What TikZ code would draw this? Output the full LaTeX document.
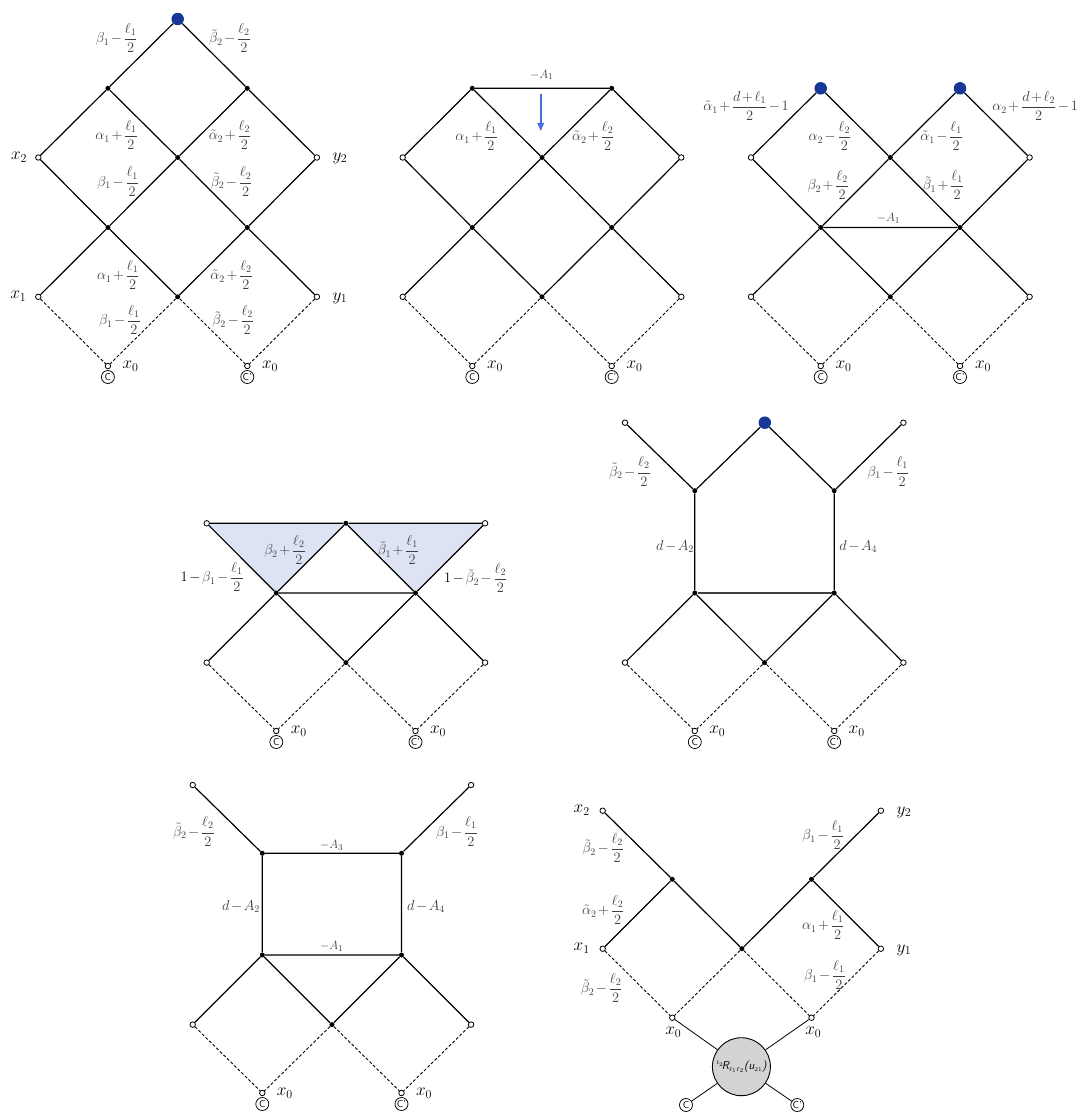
\documentclass[tikz,border=0pt]{standalone}
\usepackage{amsmath}
\usetikzlibrary{arrows.meta,backgrounds}
\definecolor{dblue}{RGB}{22,55,150}
\definecolor{arrblue}{RGB}{70,110,220}
\definecolor{labgray}{RGB}{62,62,62}
\definecolor{trifill}{RGB}{221,227,245}
\definecolor{rgray}{RGB}{211,211,211}
\newcommand{\lfr}[1]{\dfrac{\ell_{#1}}{2}}
\newcommand{\blk}[1]{\textcolor{black}{#1}}
\newcommand{\tightmath}{\medmuskip=2mu plus 1mu minus 1mu\relax}
\tikzset{
 opn/.style={circle,draw,fill=white,inner sep=0pt,minimum size=5.5pt,line width=0.8pt},
 dt/.style={circle,fill=black,inner sep=0pt,minimum size=5pt},
 bd/.style={circle,fill=dblue,inner sep=0pt,minimum size=12.5pt},
 cc/.style={circle,draw,fill=white,inner sep=0pt,minimum size=13pt,line width=0.75pt,font=\sffamily\fontsize{10}{10}\selectfont},
 ed/.style={line width=1.2pt},
 thn/.style={line width=0.8pt},
 ds/.style={line width=0.9pt,dash pattern=on 3pt off 2pt},
 lb/.style={text=labgray,font=\fontsize{14}{15}\selectfont\tightmath,inner sep=0pt},
 sl/.style={text=labgray,font=\fontsize{12.5}{13}\selectfont\tightmath,inner sep=0pt},
 vl/.style={font=\fontsize{18}{19}\selectfont,inner sep=0pt},
}
\begin{document}
\begin{tikzpicture}[x=1pt,y=-1pt]
\path[use as bounding box] (0,0) rectangle (1079,1113);

% ================= Diagram A (top-left)
\node[bd] (a0) at (177.7,19) {};
\node[dt] (a1) at (107.9,88.3) {};
\node[dt] (a2) at (247.3,88.3) {};
\node[opn] (ax2) at (38.3,157.5) {};
\node[dt] (a3) at (177.7,157.5) {};
\node[opn] (ay2) at (316.9,157.5) {};
\node[dt] (a4) at (107.9,227.5) {};
\node[dt] (a5) at (247.3,227.5) {};
\node[opn] (ax1) at (38.3,296.8) {};
\node[dt] (a6) at (177.7,296.8) {};
\node[opn] (ay1) at (316.9,296.8) {};
\node[opn] (ax0l) at (107.9,366) {};
\node[opn] (ax0r) at (247.3,366) {};
\node[cc] (aCl) at (107.9,377) {C};
\node[cc] (aCr) at (247.3,377) {C'};
\draw[ed] (a0)--(a1) (a0)--(a2) (a1)--(ax2) (a1)--(a3) (a2)--(a3) (a2)--(ay2)
 (ax2)--(a4) (a3)--(a4) (a3)--(a5) (ay2)--(a5) (a4)--(ax1) (a4)--(a6) (a5)--(a6) (a5)--(ay1);
\draw[ds] (ax1)--(ax0l) (a6)--(ax0l) (a6)--(ax0r) (ay1)--(ax0r);
\node[lb] (la1) at (116.7,38) {$\beta_1-\lfr1$};
\node[lb] (la2) at (230,38) {$\tilde\beta_2-\lfr2$};
\node[lb] (la3) at (116.7,135) {$\alpha_1+\lfr1$};
\node[lb] (la4) at (230,135) {$\tilde\alpha_2+\lfr2$};
\node[lb] (la5) at (118.3,181.7) {$\beta_1-\lfr1$};
\node[lb] (la6) at (231.7,181.7) {$\tilde\beta_2-\lfr2$};
\node[lb] (la7) at (118.3,275) {$\alpha_1+\lfr1$};
\node[lb] (la8) at (231.7,275) {$\tilde\alpha_2+\lfr2$};
\node[lb] (la9) at (120,320) {$\beta_1-\lfr1$};
\node[lb] (la10) at (233.3,320) {$\tilde\beta_2-\lfr2$};
\node[vl] (lax2) at (19,157) {$x_2$};
\node[vl] (lay2) at (340,158) {$y_2$};
\node[vl] (lax1) at (18.3,296) {$x_1$};
\node[vl] (lay1) at (340,298) {$y_1$};
\node[vl] (lax0a) at (130.5,366) {$x_0$};
\node[vl] (lax0b) at (270,366) {$x_0$};

% ================= Diagram B (top-middle)
\node[dt] (b1) at (472.3,88.3) {};
\node[dt] (b2) at (611.7,88.3) {};
\node[opn] (bx2) at (402.7,157.5) {};
\node[dt] (b3) at (542,157.5) {};
\node[opn] (by2) at (681.3,157.5) {};
\node[dt] (b4) at (472.3,227.5) {};
\node[dt] (b5) at (611.7,227.5) {};
\node[opn] (bx1) at (402.7,296.8) {};
\node[dt] (b6) at (542,296.8) {};
\node[opn] (by1) at (681.3,296.8) {};
\node[opn] (bx0l) at (472.3,366) {};
\node[opn] (bx0r) at (611.7,366) {};
\node[cc] (bCl) at (472.3,377) {C};
\node[cc] (bCr) at (611.7,377) {C'};
\draw[ed] (b1)--(b2) (b1)--(bx2) (b1)--(b3) (b2)--(b3) (b2)--(by2)
 (bx2)--(b4) (b3)--(b4) (b3)--(b5) (by2)--(b5) (b4)--(bx1) (b4)--(b6) (b5)--(b6) (b5)--(by1);
\draw[ds] (bx1)--(bx0l) (b6)--(bx0l) (b6)--(bx0r) (by1)--(bx0r);
\coordinate (arS) at (540.7,94);
\coordinate (arE) at (540.7,131);
\draw[arrblue,line width=1.6pt,-{Triangle[length=8pt,width=6.5pt]}] (arS)--(arE);
\node[sl] (lb0) at (541.7,75) {$-A_1$};
\node[lb] (lb1) at (476.7,136) {$\alpha_1+\lfr1$};
\node[lb] (lb2) at (593.3,136) {$\tilde\alpha_2+\lfr2$};
\node[vl] (lbx0a) at (495,366) {$x_0$};
\node[vl] (lbx0b) at (634.5,366) {$x_0$};

% ================= Diagram C (top-right)
\node[bd] (c1) at (820.7,88.3) {};
\node[bd] (c2) at (960,88.3) {};
\node[opn] (cx2) at (751,157.5) {};
\node[dt] (c3) at (890.3,157.5) {};
\node[opn] (cy2) at (1029.6,157.5) {};
\node[dt] (c4) at (820.7,227.5) {};
\node[dt] (c5) at (960,227.5) {};
\node[opn] (cx1) at (751,296.8) {};
\node[dt] (c6) at (890.3,296.8) {};
\node[opn] (cy1) at (1029.6,296.8) {};
\node[opn] (cx0l) at (820.7,366) {};
\node[opn] (cx0r) at (960,366) {};
\node[cc] (cCl) at (820.7,377) {C};
\node[cc] (cCr) at (960,377) {C'};
\draw[ed] (c1)--(cx2) (c1)--(c3) (c2)--(c3) (c2)--(cy2)
 (cx2)--(c4) (c3)--(c4) (c3)--(c5) (cy2)--(c5) (c4)--(c5)
 (c4)--(cx1) (c4)--(c6) (c5)--(c6) (c5)--(cy1);
\draw[ds] (cx1)--(cx0l) (c6)--(cx0l) (c6)--(cx0r) (cy1)--(cx0r);
\node[lb] (lc1) at (746,106) {$\tilde\alpha_1+\dfrac{d+\ell_1}{2}-1$};
\node[lb,anchor=east] (lc2) at (1078,106) {$\alpha_2+\dfrac{d+\ell_2}{2}-1$};
\node[lb] (lc3) at (830,136) {$\alpha_2-\lfr2$};
\node[lb] (lc4) at (941.7,136) {$\tilde\alpha_1-\lfr1$};
\node[lb] (lc5) at (828.3,185) {$\beta_2+\lfr2$};
\node[lb] (lc6) at (943.3,185) {$\tilde\beta_1+\lfr1$};
\node[sl] (lc7) at (888.3,218) {$-A_1$};
\node[vl] (lcx0a) at (843.5,366) {$x_0$};
\node[vl] (lcx0b) at (983,366) {$x_0$};

% ================= Diagram D (middle-left)
\node[opn] (dtl) at (206.7,523.3) {};
\node[dt] (dtc) at (345.9,523.3) {};
\node[opn] (dtr) at (485.1,523.3) {};
\node[dt] (d4) at (276.3,593) {};
\node[dt] (d5) at (415.5,593) {};
\node[opn] (dx1) at (206.7,662.6) {};
\node[dt] (d6) at (345.9,662.6) {};
\node[opn] (dy1) at (485.1,662.6) {};
\node[opn] (dx0l) at (276.3,731) {};
\node[opn] (dx0r) at (415.5,731) {};
\node[cc] (dCl) at (276.3,742) {C};
\node[cc] (dCr) at (415.5,742) {C'};
\begin{scope}[on background layer]
\fill[trifill] (dtl.center)--(dtc.center)--(d4.center)--cycle;
\fill[trifill] (dtc.center)--(dtr.center)--(d5.center)--cycle;
\end{scope}
\draw[ed] (dtl)--(dtc) (dtc)--(dtr) (dtl)--(d4) (dtc)--(d4) (dtc)--(d5) (dtr)--(d5) (d4)--(d5)
 (d4)--(dx1) (d4)--(d6) (d5)--(d6) (d5)--(dy1);
\draw[ds] (dx1)--(dx0l) (d6)--(dx0l) (d6)--(dx0r) (dy1)--(dx0r);
\node[lb] (ld1) at (285,550) {$\beta_2+\lfr2$};
\node[lb] (ld2) at (398.3,550) {$\tilde\beta_1+\lfr1$};
\node[lb,anchor=east] (ld3) at (244,577) {$\blk{1}\mathbin{\blk{-}}\beta_1-\lfr1$};
\node[lb,anchor=west] (ld4) at (444,578) {$\blk{1}\mathbin{\blk{-}}\tilde\beta_2-\lfr2$};
\node[vl] (ldx0a) at (298.8,731) {$x_0$};
\node[vl] (ldx0b) at (438,731) {$x_0$};

% ================= Diagram E (middle-right)
\node[opn] (etl) at (625,422.7) {};
\node[bd] (etop) at (764.8,422.7) {};
\node[opn] (etr) at (903.4,422.7) {};
\node[dt] (e1) at (694.8,490.7) {};
\node[dt] (e2) at (834.2,490.7) {};
\node[dt] (e4) at (694.8,593) {};
\node[dt] (e5) at (834.2,593) {};
\node[opn] (ex1) at (625,662.6) {};
\node[dt] (e6) at (764.5,662.6) {};
\node[opn] (ey1) at (903.4,662.6) {};
\node[opn] (ex0l) at (694.8,731) {};
\node[opn] (ex0r) at (834.2,731) {};
\node[cc] (eCl) at (694.8,742) {C};
\node[cc] (eCr) at (834.2,742) {C'};
\draw[ed] (etl)--(e1) (etop)--(e1) (etop)--(e2) (etr)--(e2) (e1)--(e4) (e2)--(e5)
 (e4)--(ex1) (e4)--(e6) (e5)--(e6) (e5)--(ey1);
\draw[line width=1.1pt,black!75] (e4)--(e5);
\draw[ds] (ex1)--(ex0l) (e6)--(ex0l) (e6)--(ex0r) (ey1)--(ex0r);
\node[lb] (le1) at (630,471.5) {$\tilde\beta_2-\lfr2$};
\node[lb] (le2) at (888.3,471.5) {$\beta_1-\lfr1$};
\node[lb] (le3) at (675,546.7) {$d-A_2$};
\node[lb] (le4) at (858.3,546.7) {$d-A_4$};
\node[vl] (lex0a) at (717.3,731) {$x_0$};
\node[vl] (lex0b) at (856.7,731) {$x_0$};

% ================= Diagram F (bottom-left)
\node[opn] (ftl) at (192.7,785) {};
\node[opn] (ftr) at (471.1,785) {};
\node[dt] (f1) at (262.3,853.3) {};
\node[dt] (f2) at (401.5,853.3) {};
\node[dt] (f4) at (262.3,955) {};
\node[dt] (f5) at (401.5,955) {};
\node[opn] (fx1) at (192.7,1024.6) {};
\node[dt] (f6) at (331.9,1024.6) {};
\node[opn] (fy1) at (471.1,1024.6) {};
\node[opn] (fx0l) at (262.3,1093) {};
\node[opn] (fx0r) at (401.5,1093) {};
\node[cc] (fCl) at (262.3,1104) {C};
\node[cc] (fCr) at (401.5,1104) {C'};
\draw[ed] (ftl)--(f1) (ftr)--(f2) (f1)--(f2) (f1)--(f4) (f2)--(f5) (f4)--(f5)
 (f4)--(fx1) (f4)--(f6) (f5)--(f6) (f5)--(fy1);
\draw[ds] (fx1)--(fx0l) (f6)--(fx0l) (f6)--(fx0r) (fy1)--(fx0r);
\node[lb] (lf1) at (194,831.5) {$\tilde\beta_2-\lfr2$};
\node[lb] (lf2) at (457,831.5) {$\beta_1-\lfr1$};
\node[sl] (lf3) at (331.7,845) {$-A_3$};
\node[lb] (lf4) at (241,906.7) {$d-A_2$};
\node[lb] (lf5) at (426,906.7) {$d-A_4$};
\node[sl] (lf6) at (331.7,946.5) {$-A_1$};
\node[vl] (lfx0a) at (284.8,1093) {$x_0$};
\node[vl] (lfx0b) at (424,1093) {$x_0$};

% ================= Diagram G (bottom-right)
\node[opn] (gx2) at (602.7,810.7) {};
\node[opn] (gy2) at (880.9,810.7) {};
\node[dt] (g1) at (672.3,879.3) {};
\node[dt] (g2) at (811.5,879.3) {};
\node[opn] (gx1) at (602.7,948.7) {};
\node[dt] (g3) at (741.9,948.7) {};
\node[opn] (gy1) at (880.9,948.7) {};
\node[opn] (gx0l) at (672.3,1017.7) {};
\node[opn] (gx0r) at (811.5,1017.7) {};
\node[circle,draw,fill=rgray,line width=0.9pt,minimum size=58pt,inner sep=0pt] (gR) at (741.4,1066.7)
 {\sffamily\itshape\fontsize{11.5}{12}\selectfont ${}^{\scriptscriptstyle t_2}$\!R$_{\scriptscriptstyle\ell_1\ell_2}$(u$_{\scriptscriptstyle 21}$)};
\node[cc] (gCl) at (686,1105) {C};
\node[cc] (gCr) at (797.3,1105) {C'};
\draw[ed] (gx2)--(g1) (g1)--(g3) (g3)--(g2) (g2)--(gy2) (g1)--(gx1) (g2)--(gy1);
\draw[ds] (gx1)--(gx0l) (g3)--(gx0l) (g3)--(gx0r) (gy1)--(gx0r);
\draw[thn] (gx0l)--(gR) (gx0r)--(gR) (gR)--(gCl) (gR)--(gCr);
\node[vl] (lgx2) at (581.7,810) {$x_2$};
\node[vl] (lgy2) at (904,812) {$y_2$};
\node[vl] (lgx1) at (581.7,948) {$x_1$};
\node[vl] (lgy1) at (904,950) {$y_1$};
\node[vl] (lgx0a) at (673.3,1032) {$x_0$};
\node[vl] (lgx0b) at (813.3,1032) {$x_0$};
\node[lb] (lg1) at (603.3,848) {$\tilde\beta_2-\lfr2$};
\node[lb] (lg2) at (823.3,835) {$\beta_1-\lfr1$};
\node[lb] (lg3) at (603.3,910) {$\tilde\alpha_2+\lfr2$};
\node[lb] (lg4) at (823.3,925) {$\alpha_1+\lfr1$};
\node[lb] (lg5) at (601.7,988) {$\tilde\beta_2-\lfr2$};
\node[lb] (lg6) at (825,975) {$\beta_1-\lfr1$};
\end{tikzpicture}
\end{document}
